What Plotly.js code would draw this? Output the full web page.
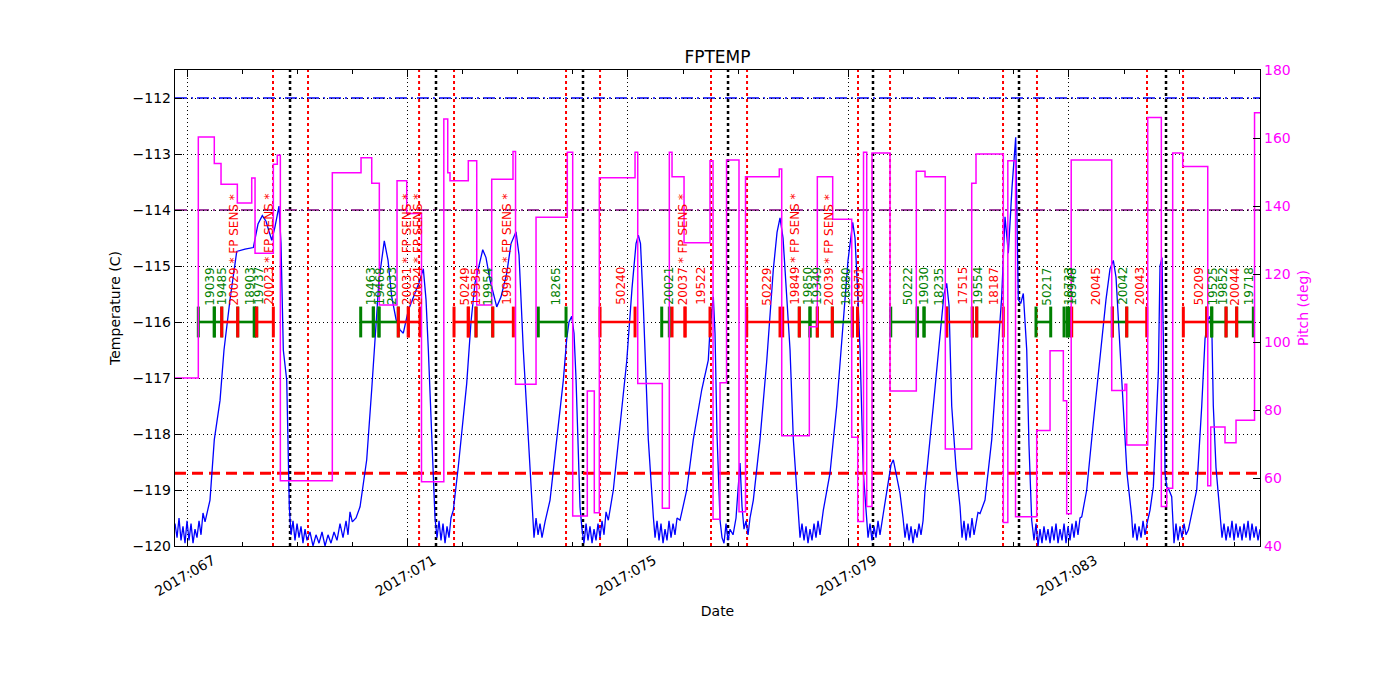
<!DOCTYPE html>
<html>
<head>
<meta charset="utf-8">
<script src="https://cdn.plot.ly/plotly-3.0.1.min.js"></script>
<style>html,body{margin:0;padding:0;background:#fff;}#chart{width:1400px;height:700px;}</style>
</head>
<body>
<div id="chart"></div>
<script>
// ---------------- DATA (day of year 2017) ----------------
const xTickDays = [67, 71, 75, 79, 83];
const xTickLabels = ['2017:067', '2017:071', '2017:075', '2017:079', '2017:083'];
const tempTicks = [-120, -119, -118, -117, -116, -115, -114, -113, -112];
const pitchTicks = [40, 60, 80, 100, 120, 140, 160, 180];

// FPTEMP (deg C)
const tempDays = [
66.782,66.819,66.855,66.891,66.927,66.964,67.000,67.036,67.073,67.109,67.145,67.181,67.218,67.254,67.290,67.327,
67.417,67.495,67.599,67.671,67.780,67.902,68.052,68.203,68.288,68.366,68.433,68.537,68.596,68.669,68.705,68.747,68.809,68.856,
68.887,68.923,68.959,68.996,69.032,69.068,69.104,69.141,69.177,69.231,69.286,69.340,69.395,69.449,69.504,69.558,69.612,69.667,69.721,69.776,69.830,69.885,69.921,69.957,69.999,
70.066,70.139,70.260,70.351,70.411,70.483,70.579,70.647,70.714,70.792,70.864,70.924,71.015,71.136,71.209,71.287,71.336,71.378,71.468,71.499,
71.536,71.572,71.608,71.644,71.681,71.717,71.753,71.789,71.831,
71.922,72.074,72.152,72.225,72.365,72.424,72.497,72.619,72.697,72.800,72.878,72.969,73.023,73.101,73.168,73.223,73.264,
73.295,73.332,73.368,73.404,73.440,73.495,
73.586,73.707,73.827,73.889,73.930,73.979,74.021,74.057,74.094,74.130,74.166,
74.202,74.239,74.275,74.311,74.348,74.384,74.420,74.456,74.493,74.529,74.565,74.602,74.643,
74.734,74.855,74.977,75.073,75.146,75.188,75.227,75.278,75.369,75.460,
75.491,75.527,75.563,75.599,75.636,75.672,75.708,75.744,75.781,75.817,75.853,75.890,75.944,
76.066,76.185,76.338,76.457,76.488,76.548,76.579,76.615,76.670,
76.706,76.742,76.779,76.815,76.851,76.906,76.960,76.996,77.033,77.069,77.105,77.141,77.178,77.214,
77.274,77.395,77.517,77.636,77.704,77.758,77.813,77.880,77.940,78.000,78.090,
78.121,78.157,78.194,78.230,78.266,78.302,78.339,78.375,78.411,78.448,78.484,78.544,
78.665,78.787,78.901,78.992,79.077,79.119,79.173,79.210,79.270,79.331,
79.355,79.391,79.427,79.464,79.500,79.536,79.572,79.632,
79.723,79.772,79.814,79.863,79.935,79.990,
80.026,80.062,80.099,80.135,80.171,80.207,80.244,80.280,80.316,80.353,
80.389,80.539,80.661,80.733,80.782,80.824,80.873,80.951,81.024,
81.060,81.096,81.133,81.169,81.205,81.241,81.278,81.314,81.350,81.387,
81.477,81.599,81.690,81.780,81.840,81.900,81.967,82.034,82.081,82.125,82.172,82.234,82.275,82.324,
82.366,82.402,82.439,82.475,82.511,82.547,82.584,82.620,82.657,82.693,82.729,82.765,82.802,82.838,82.874,82.911,82.947,82.983,83.019,83.056,83.092,83.128,83.164,83.201,83.232,
83.322,83.442,83.564,83.672,83.745,83.805,83.854,83.926,83.986,84.053,84.139,
84.162,84.199,84.235,84.271,84.308,84.344,84.380,84.416,84.471,
84.531,84.622,84.652,84.688,84.716,84.743,84.774,84.803,84.864,84.906,
84.942,84.979,85.015,85.051,85.088,85.124,85.166,
85.318,85.409,85.469,85.523,85.559,85.596,85.619,85.668,85.741,
85.777,85.813,85.850,85.886,85.922,85.958,85.995,86.031,86.067,86.104,86.140,86.176,86.212,86.249,86.285,86.321,86.358,86.394,86.430,86.466
];
const tempC = [
-119.6,-119.85,-119.5,-119.9,-119.65,-119.95,-119.55,-119.9,-119.6,-119.95,-119.7,-119.85,-119.55,-119.8,-119.41,-119.57,
-119.18,-118.1,-117.4,-116.5,-115.6,-114.74,-114.7,-114.67,-114.25,-114.1,-114.2,-114.54,-114.3,-113.93,-114.6,-116.5,-117.04,-119.3,
-119.8,-119.55,-119.9,-119.6,-119.85,-119.65,-119.95,-119.7,-119.9,-119.75,-120.0,-119.8,-119.95,-119.75,-120.0,-119.8,-119.95,-119.75,-119.9,-119.6,-119.85,-119.55,-119.8,-119.39,-119.57,
-119.5,-119.3,-118.46,-117.2,-116.3,-115.25,-114.55,-114.9,-115.55,-115.95,-116.14,-116.2,-115.79,-115.49,-115.3,-115.05,-115.6,-116.5,-118.7,-119.5,
-119.85,-119.55,-119.9,-119.6,-119.95,-119.65,-119.85,-119.5,-119.36,
-118.58,-117.1,-116.0,-115.3,-114.71,-114.85,-115.25,-115.73,-115.55,-115.13,-114.6,-114.39,-114.8,-116.5,-117.7,-118.7,-119.48,
-119.85,-119.5,-119.8,-119.6,-119.85,-119.57,
-119.18,-118.1,-117.04,-116.3,-116.0,-115.9,-116.2,-117.0,-118.3,-119.3,-119.7,
-119.95,-119.6,-119.9,-119.65,-119.95,-119.7,-119.9,-119.6,-119.85,-119.55,-119.8,-119.39,-119.54,
-119.0,-117.8,-116.7,-115.4,-114.6,-114.45,-114.6,-115.7,-118.1,-119.48,
-119.85,-119.55,-119.9,-119.6,-119.95,-119.7,-119.9,-119.55,-119.85,-119.6,-119.8,-119.5,-119.54,
-119.0,-118.1,-117.21,-116.68,-116.14,-115.55,-116.2,-118.0,-119.54,
-119.85,-119.95,-119.6,-119.9,-119.7,-119.8,-119.5,-119.0,-118.52,-119.3,-119.7,-119.55,-119.8,-119.5,
-119.18,-118.1,-116.7,-115.07,-114.4,-114.14,-114.5,-115.55,-116.5,-118.1,-119.48,
-119.85,-119.6,-119.9,-119.65,-119.95,-119.7,-119.9,-119.6,-119.85,-119.55,-119.8,-119.36,
-118.7,-117.5,-116.0,-114.9,-114.22,-114.5,-115.6,-116.5,-118.7,-119.54,
-119.85,-119.6,-119.9,-119.65,-119.85,-119.55,-119.8,-119.42,
-118.82,-118.55,-118.46,-118.7,-119.06,-119.5,
-119.85,-119.6,-119.9,-119.65,-119.95,-119.7,-119.85,-119.6,-119.8,-119.55,
-119.0,-117.5,-116.3,-115.5,-115.31,-115.7,-117.5,-118.6,-119.3,
-119.85,-119.55,-119.9,-119.6,-119.85,-119.5,-119.8,-119.6,-119.4,-119.42,
-119.18,-118.1,-116.8,-115.55,-114.12,-114.77,-113.6,-112.7,-115.6,-115.67,-115.49,-116.5,-118.2,-119.54,
-119.9,-119.6,-120.0,-119.7,-119.95,-119.65,-119.9,-119.7,-119.95,-119.65,-119.9,-119.6,-119.95,-119.7,-119.9,-119.6,-119.95,-119.65,-119.9,-119.6,-119.85,-119.55,-119.8,-119.5,-119.48,
-119.0,-117.8,-116.62,-115.6,-115.05,-114.9,-115.2,-116.5,-117.5,-118.7,-119.48,
-119.85,-119.6,-119.9,-119.65,-119.85,-119.55,-119.8,-119.6,-119.36,
-118.94,-116.9,-115.0,-114.85,-116.5,-118.7,-118.94,-118.97,-119.12,-119.95,
-119.6,-119.9,-119.65,-119.85,-119.6,-119.8,-119.71,
-119.0,-117.5,-116.3,-115.95,-115.9,-116.3,-117.5,-118.6,-119.42,
-119.85,-119.6,-119.9,-119.65,-119.85,-119.55,-119.9,-119.6,-119.85,-119.65,-119.9,-119.6,-119.85,-119.55,-119.9,-119.6,-119.85,-119.65,-119.9,-119.7
];

// Pitch (deg), value held until next time
const pitchDays = [
66.782,67.205,67.495,67.617,67.913,68.174,68.234,68.566,68.638,68.693,69.636,70.157,70.351,70.489,70.810,70.986,71.254,
71.659,71.730,71.771,72.103,72.256,72.528,72.914,72.960,73.332,73.899,73.997,74.262,74.389,74.480,75.128,75.177,75.623,
75.750,75.799,76.017,76.488,76.543,76.670,76.788,77.014,77.132,77.745,77.789,78.290,78.435,78.714,79.059,79.168,79.273,
79.331,79.427,79.754,80.231,80.389,80.757,81.236,81.314,81.809,81.891,82.031,82.415,82.657,82.898,82.959,83.041,83.776,
84.017,84.048,84.429,84.676,84.774,84.882,85.064,85.518,85.572,85.831,86.031,86.367,86.466
];
const pitchDeg = [
89.4,160.3,152.5,146.4,140.9,148.2,126.1,152.3,154.9,59.2,149.8,154.2,146.7,110.9,147.4,137.8,58.9,
165.6,149.8,147.4,153.3,110.9,147.9,156.0,87.6,136.7,155.8,48.8,85.6,49.8,148.3,155.8,87.8,51.1,
155.8,148.6,129.2,153.3,47.9,88.0,153.5,50.1,148.6,150.9,72.4,104.5,148.6,136.1,72.0,47.2,155.8,
51.6,155.6,85.6,150.2,148.6,68.5,146.7,155.3,46.9,153.3,48.6,74.0,97.4,82.7,49.5,153.5,85.7,
87.6,69.7,166.0,51.6,57.0,155.6,151.6,57.7,75.0,70.4,77.0,167.4,167.4
];

// Event times
const redEventDays = [68.56, 69.195, 71.21, 71.844, 73.876, 74.493, 76.506, 77.16, 79.173, 79.754, 81.804, 82.42, 84.416, 85.07];
const blackEventDays = [68.869, 71.517, 74.184, 76.815, 79.445, 82.094, 84.761];

// Temperature limit levels
const limitLevels = [-112.0, -114.0, -118.7];

// Observations
const obsLabels = [
'19039','19485','20029 * FP SENS *','18903','19737','20023 * FP SENS *',
'19463','19468','20033','20031 * FP SENS *','20024 * FP SENS *',
'50249','19335','19954','19998 * FP SENS *',
'18265','50240',
'20021','20037 * FP SENS *','19522',
'50229','19849 * FP SENS *','19850','19349','20039 * FP SENS *','18880','18971',
'50222','19030','18235','17515','19554','18187',
'50217','18733','18948','20045','20042','20043',
'50209','19525','19852','20044','19718'
];
const obsStart = [
67.205,67.495,67.630,67.920,68.221,68.264,
70.151,70.380,70.483,70.833,71.015,
71.844,72.103,72.243,72.546,
73.373,74.493,
75.612,75.799,76.035,
77.154,77.807,78.108,78.302,78.435,78.707,79.070,
79.767,80.249,80.371,80.782,81.247,81.327,
82.402,82.911,82.971,83.050,83.787,84.048,
85.075,85.499,85.590,85.850,86.043
];
const obsStop = [
67.495,67.630,67.920,68.221,68.264,68.566,
70.380,70.483,70.833,71.015,71.227,
72.103,72.243,72.546,72.920,
73.876,75.128,
75.750,76.035,76.488,
77.758,78.108,78.302,78.435,78.707,79.070,79.164,
80.249,80.371,80.782,81.247,81.327,81.809,
82.669,82.971,83.011,83.787,84.048,84.411,
85.499,85.590,85.850,86.043,86.345
];
const obsFlagged = [
0,0,1,0,0,1,
0,0,0,1,1,
1,1,0,1,
0,1,
0,1,1,
1,1,0,0,1,0,1,
0,0,0,1,0,1,
0,0,0,1,0,1,
1,0,0,1,0
];
const obsLevel = -116.0;
const obsLabelBase = -115.72;

// ---------------- BUILD ----------------
const RED = '#ff0000', GREEN = '#008000', MAG = '#ff00ff', BLUE = '#0000ff', PURPLE = '#800080';
const FONT = 'DejaVu Sans, Verdana, sans-serif';

const traces = [];
traces.push({
  x: tempDays, y: tempC, type: 'scatter', mode: 'lines',
  line: {color: BLUE, width: 1.3}, xaxis: 'x', yaxis: 'y', hoverinfo: 'skip'
});

function segTrace(flag, color) {
  const xs = [], ys = [];
  for (let i = 0; i < obsLabels.length; i++) {
    if (obsFlagged[i] !== flag) continue;
    xs.push(obsStart[i], obsStop[i], null);
    ys.push(obsLevel, obsLevel, null);
  }
  return {
    x: xs, y: ys, type: 'scatter', mode: 'lines+markers',
    line: {color: color, width: 2.6},
    marker: {symbol: 'line-ns', size: 22, color: color, line: {color: color, width: 3}},
    xaxis: 'x', yaxis: 'y', hoverinfo: 'skip', connectgaps: false
  };
}
traces.push(segTrace(0, GREEN));
traces.push(segTrace(1, RED));

traces.push({
  x: pitchDays, y: pitchDeg, type: 'scatter', mode: 'lines',
  line: {color: MAG, width: 1.5, shape: 'hv'}, xaxis: 'x', yaxis: 'y2', hoverinfo: 'skip'
});

const shapes = [];
redEventDays.forEach(d => shapes.push({
  type: 'line', xref: 'x', yref: 'paper', x0: d, x1: d, y0: 0, y1: 1, layer: 'below',
  line: {color: RED, width: 2, dash: '3px,3px'}
}));
blackEventDays.forEach(d => shapes.push({
  type: 'line', xref: 'x', yref: 'paper', x0: d, x1: d, y0: 0, y1: 1, layer: 'below',
  line: {color: '#000000', width: 2.5, dash: '3px,3px'}
}));
const limitStyles = [
  {color: BLUE, width: 1.5, dash: '12px,4px,2px,4px'},
  {color: PURPLE, width: 1.5, dash: '12px,4px,2px,4px'},
  {color: RED, width: 3, dash: '11px,6px'}
];
limitLevels.forEach((v, i) => shapes.push({
  type: 'line', xref: 'paper', yref: 'y', x0: 0, x1: 1, y0: v, y1: v, layer: 'below',
  line: limitStyles[i]
}));

const annotations = obsLabels.map((t, i) => ({
  x: (obsStart[i] + obsStop[i]) / 2, y: obsLabelBase, xref: 'x', yref: 'y',
  text: t, showarrow: false, textangle: -90, xanchor: 'center', yanchor: 'bottom',
  xshift: 4, borderpad: 0,
  font: {family: FONT, size: 12, color: obsFlagged[i] ? RED : GREEN}
}));

const layout = {
  width: 1400, height: 700,
  margin: {l: 175, r: 140, t: 70, b: 154},
  paper_bgcolor: '#fff', plot_bgcolor: '#fff',
  showlegend: false,
  font: {family: FONT, size: 14, color: '#000'},
  title: {text: 'FPTEMP', font: {family: FONT, size: 17, color: '#000'}, x: 0.5, xref: 'paper', y: 1 - 57/700, yref: 'container', yanchor: 'middle'},
  xaxis: {
    range: [66.782, 86.466], tickmode: 'array', tickvals: xTickDays, ticktext: xTickLabels,
    tickangle: -30, ticklabelshift: 26, ticks: 'inside', ticklen: 7, tickwidth: 1, tickcolor: '#000',
    showline: true, linecolor: '#000', linewidth: 1.2, mirror: 'ticks',
    showgrid: true, gridcolor: '#000', griddash: '1px,3px', gridwidth: 1,
    zeroline: false, tickfont: {family: FONT, size: 14},
    minor: {tick0: 67, dtick: 1, ticks: 'inside', ticklen: 4, tickcolor: '#000', showgrid: false},
    title: {text: 'Date', font: {family: FONT, size: 14}, standoff: 8}
  },
  yaxis: {
    range: [-120, -111.5], tickmode: 'array', tickvals: tempTicks,
    ticktext: tempTicks.map(v => '\u2212' + Math.abs(v)),
    ticks: 'inside', ticklen: 7, tickcolor: '#000',
    showline: true, linecolor: '#000', linewidth: 1.2, mirror: false,
    showgrid: true, gridcolor: '#000', griddash: '1px,3px', gridwidth: 1,
    zeroline: false, tickfont: {family: FONT, size: 14},
    title: {text: 'Temperature (C)', font: {family: FONT, size: 14}, standoff: 8}
  },
  yaxis2: {
    range: [40, 180], overlaying: 'y', side: 'right', tickmode: 'array', tickvals: pitchTicks,
    ticks: 'inside', ticklen: 7, tickcolor: '#000',
    showline: true, linecolor: '#000', linewidth: 1.2,
    showgrid: false, zeroline: false,
    tickfont: {family: FONT, size: 14, color: MAG},
    title: {text: 'Pitch (deg)', font: {family: FONT, size: 14, color: MAG}, standoff: 8}
  },
  shapes: shapes,
  annotations: annotations
};

Plotly.newPlot('chart', traces, layout, {staticPlot: true, displayModeBar: false});
</script>
</body>
</html>
